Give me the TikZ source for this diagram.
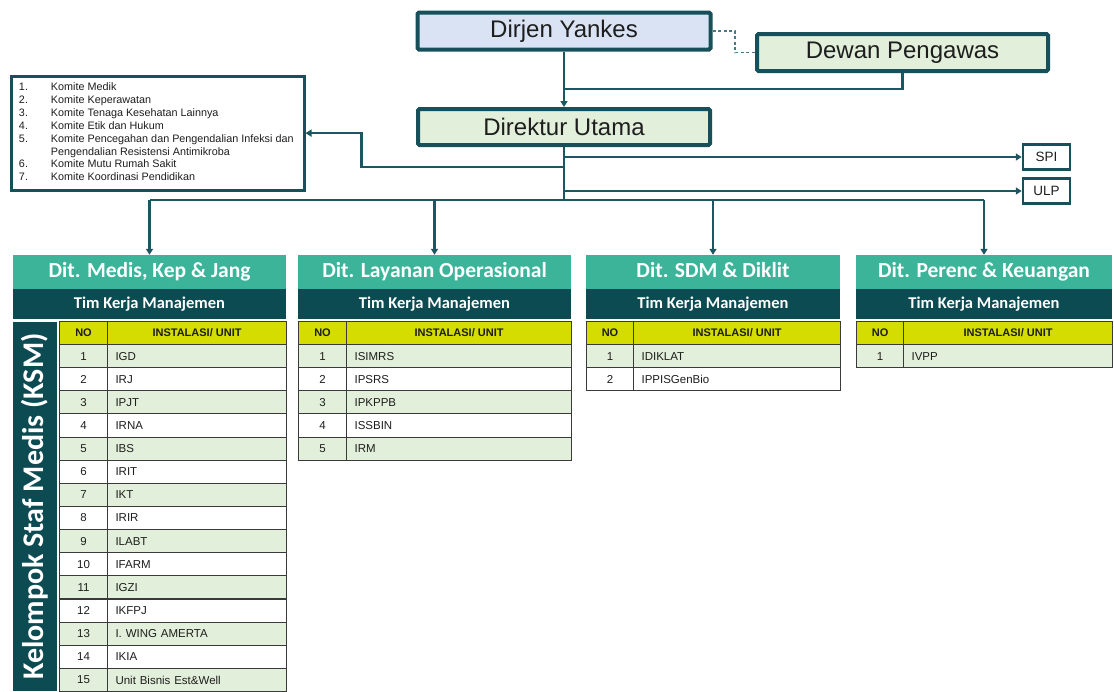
\documentclass[tikz,border=0pt]{standalone}
\usepackage{fontspec}
\setmainfont{Liberation Sans}
\newfontfamily\calib{Carlito}
\usetikzlibrary{arrows.meta,calc}
\definecolor{tealhead}{HTML}{3BB49A}
\definecolor{darkband}{HTML}{0D4B53}
\definecolor{yel}{HTML}{D5DC00}
\definecolor{lgreen}{HTML}{E2EFDA}
\definecolor{lblue}{HTML}{DAE3F3}
\definecolor{conn}{HTML}{1B5760}
\definecolor{bord}{HTML}{17505A}
\definecolor{gridc}{HTML}{3A3A3A}
\definecolor{txt}{HTML}{1E1E1E}

\newcommand\mktable[5]{%
  \pgfmathsetmacro\wa{#3-#2}%
  \pgfmathsetmacro\wb{#4-#3}%
  \pgfmathsetmacro\tw{#4-#3-16}%
  \node[cell, fill=yel, font=\bfseries\fontsize{11}{13}\selectfont, minimum width=\wa pt, minimum height=23pt] (#1hno) at (#2,321) {NO};
  \node[cell, fill=yel, font=\bfseries\fontsize{11}{13}\selectfont, minimum width=\wb pt, minimum height=23pt] (#1hun) at (#3,321) {INSTALASI/ UNIT};
  \foreach \t [count=\i] in {#5} {%
    \ifodd\i \def\fc{lgreen}\else\def\fc{white}\fi
    \pgfmathsetmacro\yy{344+(\i-1)*23.13}%
    \node[cell, fill=\fc, minimum width=\wa pt, minimum height=23.13pt] (#1n\i) at (#2,\yy) {\i};
    \node[cell, fill=\fc, minimum width=\wb pt, minimum height=23.13pt, text width=\tw pt, align=left, inner xsep=8pt] (#1u\i) at (#3,\yy) {\t};
  }%
}

\begin{document}
\begin{tikzpicture}[x=1pt,y=-1pt,
  bigbox/.style={draw=bord, line width=4pt, rounded corners=1.5pt, inner sep=0pt, text=txt, font=\fontsize{24}{28}\selectfont},
  smallbox/.style={draw=bord, line width=2.5pt, fill=white, inner sep=0pt, minimum width=47pt, minimum height=25pt, text=txt, font=\fontsize{13.5}{15}\selectfont},
  cn/.style={draw=conn, line width=2.2pt},
  dsh/.style={draw=conn!80!white, line width=1.3pt, dash pattern=on 3pt off 2.5pt},
  arr/.style={-{Triangle[width=7pt,length=6pt]}},
  cell/.style={draw=gridc, line width=1.1pt, anchor=north west, inner sep=0pt, text=txt, font=\fontsize{11.5}{13}\selectfont},
  dirhead/.style={fill=tealhead, inner sep=0pt, minimum height=34pt, text height=15pt, text depth=4pt, text=white, font=\calib\bfseries\fontsize{21.5}{24}\selectfont},
  timband/.style={fill=darkband, inner sep=0pt, minimum height=30pt, text height=11.5pt, text depth=3.5pt, text=white, font=\calib\bfseries\fontsize{16.5}{19}\selectfont},
]
\useasboundingbox (0,0) rectangle (1114,691);

% top boxes
\node[bigbox, fill=lblue, minimum width=293pt, minimum height=37pt] (dirj) at (564,31) {Dirjen Yankes};
\node[bigbox, fill=lgreen, minimum width=291pt, minimum height=37pt] (dew) at (902.5,52.5) {Dewan Pengawas};
\node[bigbox, fill=lgreen, minimum width=292pt, minimum height=36pt] (dir) at (564,127) {Direktur Utama};

\node[smallbox] (spi) at (1046.5,157) {SPI};
\node[smallbox] (ulp) at (1046.5,191) {ULP};

% committee list
\node[draw=bord, line width=3pt, anchor=north west, inner xsep=8pt, inner ysep=5.5pt, fill=white, text=txt,
      font=\fontsize{10.8}{12.9}\selectfont] (kom) at (9.5,74.5)
{\begin{tabular}{@{}p{32pt}@{}p{245pt}@{}}
1. & Komite Medik\\
2. & Komite Keperawatan\\
3. & Komite Tenaga Kesehatan Lainnya\\
4. & Komite Etik dan Hukum\\
5. & Komite Pencegahan dan Pengendalian Infeksi dan\\
   & Pengendalian Resistensi Antimikroba\\
6. & Komite Mutu Rumah Sakit\\
7. & Komite Koordinasi Pendidikan
\end{tabular}};

% directorate headers
\node[dirhead, minimum width=273pt] (h1) at (149.5,272) {Dit. Medis, Kep \& Jang};
\node[dirhead, minimum width=273pt] (h2) at (434.5,272) {Dit. Layanan Operasional};
\node[dirhead, minimum width=254pt] (h3) at (713,272) {Dit. SDM \& Diklit};
\node[dirhead, minimum width=256pt] (h4) at (984,272) {Dit. Perenc \& Keuangan};

\node[timband, minimum width=273pt] (b1) at (149.5,304) {Tim Kerja Manajemen};
\node[timband, minimum width=273pt] (b2) at (434.5,304) {Tim Kerja Manajemen};
\node[timband, minimum width=254pt] (b3) at (713,304) {Tim Kerja Manajemen};
\node[timband, minimum width=256pt] (b4) at (984,304) {Tim Kerja Manajemen};

% KSM band
\node[fill=darkband, inner sep=0pt, minimum width=369pt, minimum height=44pt, rotate=90, text=white,
      font=\calib\bfseries\fontsize{30}{32}\selectfont] (ksm) at (35,506.5) {Kelompok Staf Medis (KSM)};

% tables
\mktable{a}{59}{107}{286}{IGD,IRJ,IPJT,IRNA,IBS,IRIT,IKT,IRIR,ILABT,IFARM,IGZI,IKFPJ,I. WING AMERTA,IKIA,Unit Bisnis Est\&Well}
\mktable{b}{298}{346}{571}{ISIMRS,IPSRS,IPKPPB,ISSBIN,IRM}
\mktable{c}{586}{633}{840}{IDIKLAT,IPPISGenBio}
\mktable{d}{856}{903}{1112}{IVPP}

% connectors
\draw[dsh] (dirj.east) -| (735,52.5) -- (dew.west);
\draw[cn, arr] (dirj.south) -- (dir.north);
\draw[cn] (dew.south) |- (dirj.south |- 0,89);
\draw[cn] (dir.south) -- (dir.south |- 0,200);
\draw[cn, arr] (dir.south |- spi.west) -- (spi.west);
\draw[cn, arr] (dir.south |- ulp.west) -- (ulp.west);
\draw[cn, arr] (dir.south |- 0,167) -| ($(kom.east)+(56,0)$) -- (kom.east);
\draw[cn] (h1.north |- 0,200) -- (h4.north |- 0,200);
\foreach \h in {h1,h2,h3,h4} \draw[cn, arr] (\h.north |- 0,200) -- (\h.north);
\end{tikzpicture}
\end{document}
